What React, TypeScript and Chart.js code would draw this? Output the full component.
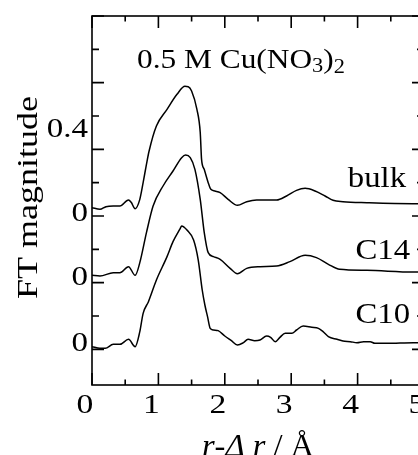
import React, { useEffect, useRef } from 'react';
import { Chart, registerables } from 'chart.js';

Chart.register(...registerables);

const FONT = '"Liberation Serif", "Times New Roman", Times, serif';

// ---- data ----
const xTickValues = [0, 1, 2, 3, 4, 5];
const yLabelValues = [0.0165, 0.214, 0.407, 0.659];
const yLabelTexts = ['0', '0', '0', '0.4'];

const seriesNames = ['bulk', 'C14', 'C10'];
const seriesOffsets = [0.4, 0.2, 0];

const bulkR = [0, 0.12, 0.21, 0.32, 0.42, 0.55, 0.59, 0.65, 0.72, 0.77, 0.82, 0.86, 0.97, 1.13, 1.28, 1.40, 1.45, 1.50, 1.58, 1.63, 1.65, 1.69, 1.75, 1.79, 1.85, 1.93, 2.05, 2.19, 2.33, 2.48, 2.78, 2.93, 3.08, 3.21, 3.36, 3.51, 3.63, 3.78, 4.14, 4.83, 5.0];
const bulkFT = [0.025, 0.020, 0.028, 0.030, 0.030, 0.048, 0.041, 0.022, 0.050, 0.100, 0.155, 0.195, 0.270, 0.320, 0.365, 0.389, 0.388, 0.375, 0.320, 0.251, 0.170, 0.140, 0.100, 0.080, 0.075, 0.070, 0.050, 0.032, 0.043, 0.048, 0.048, 0.060, 0.077, 0.083, 0.075, 0.060, 0.047, 0.043, 0.040, 0.037, 0.037];

const c14R = [0, 0.12, 0.32, 0.42, 0.55, 0.65, 0.72, 0.82, 0.92, 1.07, 1.22, 1.35, 1.41, 1.48, 1.55, 1.63, 1.69, 1.75, 1.83, 1.93, 2.08, 2.19, 2.33, 2.53, 2.78, 2.98, 3.21, 3.38, 3.56, 3.73, 4.14, 4.84, 5.0];
const c14FT = [0.022, 0.020, 0.030, 0.030, 0.048, 0.022, 0.060, 0.150, 0.230, 0.290, 0.335, 0.375, 0.383, 0.375, 0.340, 0.250, 0.151, 0.090, 0.078, 0.070, 0.043, 0.027, 0.043, 0.048, 0.050, 0.063, 0.082, 0.075, 0.055, 0.040, 0.037, 0.032, 0.032];

const c10R = [0, 0.12, 0.20, 0.32, 0.42, 0.55, 0.65, 0.72, 0.77, 0.85, 0.97, 1.13, 1.22, 1.33, 1.35, 1.43, 1.53, 1.60, 1.66, 1.70, 1.74, 1.78, 1.83, 1.90, 2.00, 2.10, 2.19, 2.28, 2.35, 2.45, 2.53, 2.63, 2.69, 2.76, 2.83, 2.91, 3.01, 3.08, 3.18, 3.31, 3.41, 3.48, 3.56, 3.69, 3.78, 3.89, 3.99, 4.09, 4.19, 4.26, 4.44, 4.84, 5.0];
const c10FT = [0.008, 0.003, 0.003, 0.015, 0.015, 0.030, 0.008, 0.053, 0.108, 0.143, 0.208, 0.278, 0.323, 0.363, 0.370, 0.358, 0.328, 0.268, 0.178, 0.133, 0.098, 0.063, 0.058, 0.056, 0.040, 0.026, 0.013, 0.020, 0.030, 0.026, 0.028, 0.040, 0.036, 0.023, 0.036, 0.048, 0.048, 0.058, 0.070, 0.066, 0.063, 0.053, 0.038, 0.030, 0.025, 0.023, 0.020, 0.023, 0.023, 0.018, 0.018, 0.020, 0.020];

const seriesR = [bulkR, c14R, c10R];
const seriesFT = [bulkFT, c14FT, c10FT];

// ---- layout / style ----
const CANVAS_W = 440;
const CANVAS_H = 455;
const Y_MIN = -0.107;
const Y_MAX = 1.0;

type Run = { text: string; font: string; dy?: number };

function drawRuns(
  ctx: CanvasRenderingContext2D,
  runs: Run[],
  x: number,
  y: number,
  align: 'left' | 'center' | 'right',
  sx = 1,
  baseline: CanvasTextBaseline = 'alphabetic',
  rotate = 0,
) {
  let total = 0;
  const widths = runs.map((r) => {
    ctx.font = r.font;
    const w = ctx.measureText(r.text).width;
    total += w;
    return w;
  });
  const totalS = total * sx;
  const start = align === 'left' ? 0 : align === 'center' ? -totalS / 2 : -totalS;
  ctx.save();
  ctx.translate(x, y);
  if (rotate) ctx.rotate(rotate);
  ctx.translate(start, 0);
  ctx.scale(sx, 1);
  ctx.textAlign = 'left';
  ctx.textBaseline = baseline;
  let cx = 0;
  runs.forEach((r, i) => {
    ctx.font = r.font;
    ctx.fillText(r.text, cx, r.dy || 0);
    cx += widths[i];
  });
  ctx.restore();
}

const framePlugin = {
  id: 'frameAndText',
  afterDatasetsDraw(chart: any) {
    const { ctx, chartArea: a, scales } = chart;
    const xs = scales.x;
    const ys = scales.y;
    ctx.save();
    ctx.strokeStyle = '#000';
    ctx.fillStyle = '#000';
    ctx.lineWidth = 1.6;
    ctx.strokeRect(a.left, a.top, a.right - a.left, a.bottom - a.top);
    ctx.beginPath();
    for (let i = 0; i <= 10; i++) {
      const px = xs.getPixelForValue(i * 0.5);
      const len = i % 2 === 0 ? 12 : 5.5;
      ctx.moveTo(px, a.bottom);
      ctx.lineTo(px, a.bottom - len);
      ctx.moveTo(px, a.top);
      ctx.lineTo(px, a.top + len);
    }
    for (let i = 0; i <= 10; i++) {
      const py = ys.getPixelForValue(i * 0.1);
      const len = i % 2 === 0 ? 12 : 7;
      ctx.moveTo(a.left, py);
      ctx.lineTo(a.left + len, py);
      ctx.moveTo(a.right, py);
      ctx.lineTo(a.right - len, py);
    }
    ctx.stroke();

    // tick labels (from the scales' own ticks)
    const tickFont = `28px ${FONT}`;
    xs.ticks.forEach((t: any) => {
      drawRuns(ctx, [{ text: String(t.label), font: tickFont }], xs.getPixelForValue(t.value) - 7, 412.5, 'center', 1.2);
    });
    ys.ticks.forEach((t: any) => {
      drawRuns(ctx, [{ text: String(t.label), font: tickFont }], 88, ys.getPixelForValue(t.value), 'right', 1.18, 'middle');
    });

    // y axis title
    drawRuns(ctx, [{ text: 'FT magnitude', font: `30px ${FONT}` }], 36.5, (a.top + a.bottom) / 2 - 3, 'center', 1.2, 'alphabetic', -Math.PI / 2);

    // title
    const big = `28px ${FONT}`;
    const sub = `20px ${FONT}`;
    drawRuns(ctx, [
      { text: '0.5 M Cu(NO', font: big },
      { text: '3', font: sub, dy: 3.5 },
      { text: ')', font: big },
      { text: '2', font: sub, dy: 5 },
    ], 137, 68.3, 'left', 1.12);

    // series labels
    const lab = `29px ${FONT}`;
    const labelPos = [
      { x: 4.73, y: 0.486 },
      { x: 4.79, y: 0.270 },
      { x: 4.79, y: 0.080 },
    ];
    seriesNames.forEach((n, i) => {
      drawRuns(ctx, [{ text: n, font: lab }], xs.getPixelForValue(labelPos[i].x), ys.getPixelForValue(labelPos[i].y), 'right', 1.13);
    });

    // x axis title
    const it = `italic 31px ${FONT}`;
    const rg = `31px ${FONT}`;
    drawRuns(ctx, [
      { text: 'r', font: it },
      { text: '-', font: rg },
      { text: 'Δ', font: it },
      { text: ' ', font: rg },
      { text: 'r', font: it },
      { text: ' / Å', font: rg },
    ], (a.left + a.right) / 2, 456, 'center', 1.05);
    ctx.restore();
  },
};

export default function App() {
  const ref = useRef<HTMLCanvasElement | null>(null);

  useEffect(() => {
    if (!ref.current) return;
    const datasets = seriesNames.map((name, i) => ({
      label: name,
      data: seriesR[i].map((r, j) => ({ x: r, y: seriesFT[i][j] + seriesOffsets[i] })),
      borderColor: '#000',
      borderWidth: 1.5,
      pointRadius: 0,
      fill: false,
      cubicInterpolationMode: 'monotone' as const,
    }));

    const chart = new Chart(ref.current, {
      type: 'line',
      data: { datasets },
      plugins: [framePlugin],
      options: {
        animation: false,
        responsive: false,
        maintainAspectRatio: false,
        devicePixelRatio: 1,
        layout: { padding: { top: 16, right: CANVAS_W - 424, bottom: 0, left: 0 } },
        plugins: { legend: { display: false }, tooltip: { enabled: false }, title: { display: false } },
        scales: {
          x: {
            type: 'linear',
            position: 'bottom',
            min: 0,
            max: 5,
            afterBuildTicks: (s: any) => {
              s.ticks = xTickValues.map((v) => ({ value: v }));
            },
            ticks: {
              display: false,
              autoSkip: false,
              callback: (v: any) => String(v),
            },
            grid: { display: false, drawTicks: false },
            border: { display: false },
            afterFit: (s: any) => {
              s.height = CANVAS_H - 385;
            },
          },
          y: {
            type: 'linear',
            position: 'left',
            min: Y_MIN,
            max: Y_MAX,
            afterBuildTicks: (s: any) => {
              s.ticks = yLabelValues.map((v) => ({ value: v }));
            },
            ticks: {
              display: false,
              autoSkip: false,
              callback: (_v: any, i: number) => yLabelTexts[i],
            },
            grid: { display: false, drawTicks: false },
            border: { display: false },
            title: { display: false, text: 'FT magnitude' },
            afterFit: (s: any) => {
              s.width = 92;
            },
          },
        },
      },
    });
    return () => chart.destroy();
  }, []);

  return (
    <div style={{ position: 'fixed', left: 0, top: 0, width: 418, height: 455, overflow: 'hidden', background: '#fff' }}>
      <canvas ref={ref} width={CANVAS_W} height={CANVAS_H} style={{ width: CANVAS_W, height: CANVAS_H, display: 'block' }} />
    </div>
  );
}
